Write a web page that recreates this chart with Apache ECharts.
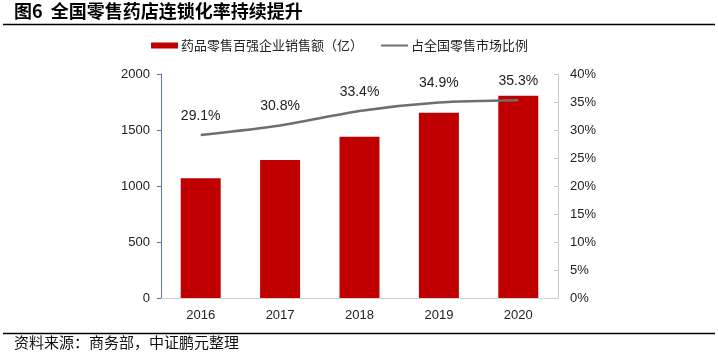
<!DOCTYPE html>
<html><head><meta charset="utf-8">
<script src="https://cdn.jsdelivr.net/npm/echarts@6/dist/echarts.min.js"></script>
<style>html,body{margin:0;padding:0;background:#fff}#c{width:718px;height:356px}</style>
</head><body><div id="c"></div>
<script>
const years = ['2016','2017','2018','2019','2020'];
const sales = [1069, 1232, 1440, 1655, 1806];
const share = [29.1, 30.8, 33.4, 34.9, 35.3];
const leftTicks = [0, 500, 1000, 1500, 2000];
const rightTicks = [0, 5, 10, 15, 20, 25, 30, 35, 40];
const titleText = '图6  全国零售药店连锁化率持续提升';
const sourceText = '资料来源：商务部，中证鹏元整理';
const barName = '药品零售百强企业销售额（亿）';
const lineName = '占全国零售市场比例';

const numFont = '"Liberation Sans", Arial, sans-serif';
const cjkFont = '"Noto Sans CJK SC", sans-serif';
const chart = echarts.init(document.getElementById('c'), null, {renderer:'canvas'});
chart.setOption({
  animation: false,
  backgroundColor: '#fff',
  graphic: [
    {type:'text', left: 14, top: 2, style:{text: titleText, font: 'bold 18px ' + cjkFont, fill:'#000'}},
    {type:'line', shape:{x1:3, y1:24.5, x2:715, y2:24.5}, style:{stroke:'#000', lineWidth:1.3}},
    {type:'line', shape:{x1:3, y1:333.5, x2:715, y2:333.5}, style:{stroke:'#000', lineWidth:1.3}},
    {type:'text', left: 14, top: 335, style:{text: sourceText, font: '15px ' + cjkFont, fill:'#111'}}
  ],
  legend: [
    {data:[barName], left: 146, top: 34, itemWidth: 27, itemHeight: 6, itemGap: 4,
     icon:'rect', textStyle:{fontSize:13, fontFamily: cjkFont, color:'#222', padding:[0,0,0,-2]}},
    {data:[{name: lineName, itemStyle:{color:'#6e6e6e', opacity:1}}], left: 376, top: 34, itemWidth: 27, itemHeight: 2, itemGap: 4,
     icon:'rect', textStyle:{fontSize:13, fontFamily: cjkFont, color:'#222', padding:[0,0,0,-2]}}
  ],
  grid: {left: 161, right: 160, top: 74, bottom: 58},
  xAxis: {
    type:'category', data: years,
    axisLine:{lineStyle:{color:'#d0d0d0', width:1}},
    axisTick:{show:false},
    axisLabel:{color:'#222', fontSize:13, fontFamily: numFont, margin:11}
  },
  yAxis: [
    {type:'value', min: leftTicks[0], max: leftTicks[leftTicks.length-1], interval: 500,
     axisLine:{show:true, lineStyle:{color:'#5b74b0', width:1}},
     axisTick:{show:true, length:4, lineStyle:{color:'#5b74b0'}},
     splitLine:{show:false},
     axisLabel:{color:'#222', fontSize:13, fontFamily: numFont, margin:11, formatter: v => String(v)}},
    {type:'value', min: rightTicks[0], max: rightTicks[rightTicks.length-1], interval: 5,
     axisLine:{show:true, lineStyle:{color:'#c8c8c8', width:1}},
     axisTick:{show:true, length:4, inside:true, lineStyle:{color:'#c8c8c8'}},
     splitLine:{show:false},
     axisLabel:{color:'#222', fontSize:13, fontFamily: numFont, margin:12, formatter: v => v + '%'}}
  ],
  series: [
    {name: barName, type:'bar', data: sales, barWidth: 40, yAxisIndex:0,
     itemStyle:{color:'#C00000'}},
    {name: lineName, type:'line', data: share, yAxisIndex:1, smooth:0.25,
     symbol:'circle', symbolSize:0.1, showSymbol:true,
     lineStyle:{color:'#6e6e6e', width:2.5}, itemStyle:{color:'#6e6e6e'},
     label:{show:true, position:'top', distance:12, formatter: p => p.value.toFixed(1) + '%',
       color:'#222', fontSize:14, fontFamily: numFont}}
  ]
});
</script></body></html>
